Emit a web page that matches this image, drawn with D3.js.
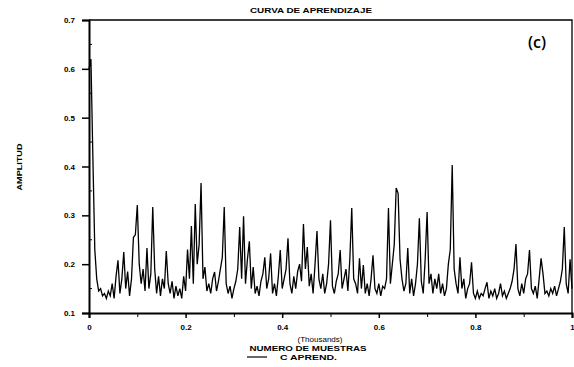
<!DOCTYPE html>
<html>
<head>
<meta charset="utf-8">
<script src="https://cdn.jsdelivr.net/npm/d3@7"></script>
<style>
  body { margin: 0; background: #fff; }
  text { font-family: "Liberation Sans", Arial, sans-serif; fill: #000; }
</style>
</head>
<body>
<div id="chart"></div>
<script>
// 1. Data
const title = "CURVA DE APRENDIZAJE";
const panelLabel = "(c)";
const yLabel = "AMPLITUD";
const xUnits = "(Thousands)";
const xLabel = "NUMERO DE MUESTRAS";
const seriesName = "C APREND.";

const yTicks = [0.1, 0.2, 0.3, 0.4, 0.5, 0.6, 0.7];
const xTicks = [0, 0.2, 0.4, 0.6, 0.8, 1];
const xMinorTicks = [0.1, 0.3, 0.5, 0.7, 0.9];

// sample step in thousands
const step = 0.004;
const amplitude = [
  0.60, 0.62, 0.42, 0.23, 0.17, 0.145, 0.15, 0.135, 0.14, 0.13,
  0.145, 0.135, 0.16, 0.13, 0.175, 0.208, 0.14, 0.17, 0.225, 0.15,
  0.185, 0.135, 0.17, 0.255, 0.26, 0.321, 0.2, 0.16, 0.19, 0.145,
  0.233, 0.15, 0.18, 0.317, 0.19, 0.14, 0.175, 0.135, 0.17, 0.15,
  0.227, 0.16, 0.14, 0.165, 0.13, 0.155, 0.135, 0.15, 0.13, 0.175,
  0.145, 0.23, 0.17, 0.278, 0.16, 0.323, 0.2, 0.24, 0.366, 0.17,
  0.194, 0.145, 0.16, 0.14, 0.17, 0.184, 0.145, 0.165, 0.19, 0.214,
  0.317, 0.16, 0.14, 0.155, 0.13, 0.15, 0.165, 0.19, 0.276, 0.17,
  0.298, 0.16, 0.21, 0.247, 0.15, 0.194, 0.14, 0.155, 0.135, 0.165,
  0.18, 0.214, 0.15, 0.17, 0.222, 0.14, 0.16, 0.135, 0.175, 0.229,
  0.15, 0.17, 0.19, 0.253, 0.16, 0.14, 0.175, 0.15, 0.185, 0.2,
  0.165, 0.282, 0.19, 0.235, 0.155, 0.18, 0.14, 0.2, 0.268, 0.17,
  0.15, 0.18, 0.14, 0.16, 0.2, 0.29, 0.155, 0.14, 0.165, 0.18,
  0.229, 0.15, 0.17, 0.19, 0.145, 0.21, 0.315, 0.17, 0.16, 0.14,
  0.212, 0.15, 0.198, 0.14, 0.16, 0.135, 0.17, 0.218, 0.15, 0.14,
  0.16, 0.135, 0.155, 0.15, 0.17, 0.315, 0.16, 0.2, 0.24, 0.356,
  0.345, 0.21, 0.17, 0.145, 0.16, 0.233, 0.14, 0.17, 0.135, 0.16,
  0.2, 0.294, 0.165, 0.14, 0.21, 0.307, 0.16, 0.18, 0.14, 0.17,
  0.15, 0.18, 0.14, 0.16, 0.135, 0.15, 0.2, 0.23, 0.403, 0.19,
  0.16, 0.14, 0.214, 0.15, 0.17, 0.13, 0.15, 0.16, 0.204, 0.14,
  0.13, 0.145, 0.13, 0.14, 0.135, 0.15, 0.163, 0.13, 0.145, 0.135,
  0.15, 0.13, 0.14, 0.16, 0.135, 0.145, 0.13, 0.14, 0.15, 0.165,
  0.19, 0.241, 0.15, 0.135, 0.16, 0.14, 0.17, 0.18, 0.229, 0.15,
  0.14, 0.155, 0.13, 0.17, 0.212, 0.18, 0.14, 0.145, 0.135, 0.15,
  0.14, 0.155, 0.135, 0.15, 0.165, 0.19, 0.276, 0.16, 0.14, 0.21,
  0.15
];

const xAccessor = (d, i) => i * step;
const yAccessor = (d) => d;

// 2. Dimensions
const dims = {
  width: 574,
  height: 367,
  margin: { top: 20, right: 2, bottom: 54, left: 89 },
};
dims.containerWidth = dims.width - dims.margin.left - dims.margin.right;
dims.containerHeight = dims.height - dims.margin.top - dims.margin.bottom;

// 3. Container
const svg = d3
  .select("#chart")
  .append("svg")
  .attr("width", dims.width)
  .attr("height", dims.height);

const container = svg
  .append("g")
  .attr("transform", `translate(${dims.margin.left},${dims.margin.top})`);

// 4. Scales
const xScale = d3.scaleLinear().domain([0, 1]).range([0, dims.containerWidth]);
const yScale = d3
  .scaleLinear()
  .domain([0.1, 0.7])
  .range([dims.containerHeight, 0]);

// 5. Draw
const lineGenerator = d3
  .line()
  .x((d, i) => xScale(xAccessor(d, i)))
  .y((d) => yScale(yAccessor(d)));

container
  .append("path")
  .datum(amplitude)
  .attr("d", lineGenerator)
  .attr("fill", "none")
  .attr("stroke", "#000")
  .attr("stroke-width", 1.3)
  .attr("stroke-linejoin", "miter");

// frame (top + right)
container
  .append("path")
  .attr("d", `M0,0H${dims.containerWidth}V${dims.containerHeight}`)
  .attr("fill", "none")
  .attr("stroke", "#000")
  .attr("stroke-width", 1.3);

// 6. Axes
const yAxisGroup = container
  .append("g")
  .call(
    d3.axisLeft(yScale)
      .tickValues(yTicks)
      .tickSize(7)
      .tickPadding(7)
      .tickFormat(d3.format(".1f"))
  );
yAxisGroup.select(".domain").attr("stroke-width", 2);
yAxisGroup.selectAll(".tick line").attr("stroke-width", 1.5);
yAxisGroup
  .selectAll("text")
  .style("font-size", "8px")
  .style("font-weight", "bold");

// minor y ticks inside
container
  .append("g")
  .selectAll("line")
  .data(d3.range(0.15, 0.7, 0.1))
  .join("line")
  .attr("x1", 0)
  .attr("x2", 3)
  .attr("y1", (d) => yScale(d))
  .attr("y2", (d) => yScale(d))
  .attr("stroke", "#000");

const xAxisGroup = container
  .append("g")
  .attr("transform", `translate(0,${dims.containerHeight})`)
  .call(
    d3.axisBottom(xScale)
      .tickValues(xTicks)
      .tickSize(5)
      .tickPadding(6)
      .tickFormat((d) => (d === 0 || d === 1 ? d : d3.format(".1f")(d)))
  );
xAxisGroup.select(".domain").attr("stroke-width", 2);
xAxisGroup.selectAll(".tick line").attr("stroke-width", 1.5);
xAxisGroup
  .selectAll("text")
  .style("font-size", "8px")
  .style("font-weight", "bold");

container
  .append("g")
  .attr("transform", `translate(0,${dims.containerHeight})`)
  .call(d3.axisBottom(xScale).tickValues(xMinorTicks).tickSize(4).tickFormat(""))
  .call((g) => g.select(".domain").remove());

// 7. Labels
svg
  .append("text")
  .attr("x", 311)
  .attr("y", 13)
  .attr("text-anchor", "middle")
  .attr("textLength", 122)
  .attr("lengthAdjust", "spacingAndGlyphs")
  .style("font-size", "8px")
  .style("font-weight", "bold")
  .text(title);

svg
  .append("text")
  .attr("x", 537)
  .attr("y", 48)
  .attr("text-anchor", "middle")
  .style("font-size", "16px")
  .style("font-family", "'Open Sans', sans-serif")
  .style("font-weight", "600")
  .text(panelLabel);

svg
  .append("text")
  .attr("transform", "translate(22,167) rotate(-90)")
  .attr("text-anchor", "middle")
  .attr("textLength", 47)
  .attr("lengthAdjust", "spacingAndGlyphs")
  .style("font-size", "8px")
  .style("font-weight", "bold")
  .text(yLabel);

svg
  .append("text")
  .attr("x", 320)
  .attr("y", 342)
  .attr("text-anchor", "middle")
  .attr("textLength", 45)
  .attr("lengthAdjust", "spacingAndGlyphs")
  .style("font-size", "7px")
  .text(xUnits);

svg
  .append("text")
  .attr("x", 308)
  .attr("y", 351)
  .attr("text-anchor", "middle")
  .attr("textLength", 117)
  .attr("lengthAdjust", "spacingAndGlyphs")
  .style("font-size", "8px")
  .style("font-weight", "bold")
  .text(xLabel);

// legend
const legend = svg.append("g").attr("transform", "translate(247,357)");
legend
  .append("line")
  .attr("x1", 0)
  .attr("x2", 20)
  .attr("stroke", "#000")
  .attr("stroke-width", 1.2);
legend
  .append("text")
  .attr("x", 33)
  .attr("y", 3)
  .attr("textLength", 57)
  .attr("lengthAdjust", "spacingAndGlyphs")
  .style("font-size", "8px")
  .style("font-weight", "bold")
  .text(seriesName);
</script>
</body>
</html>
